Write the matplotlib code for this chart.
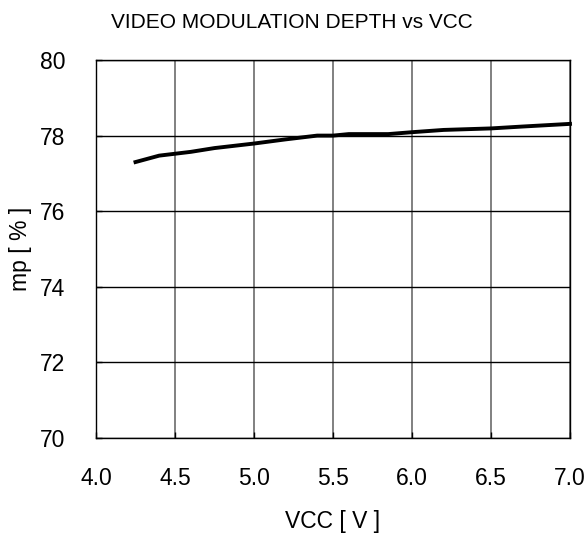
import matplotlib
matplotlib.use("Agg")
import matplotlib.pyplot as plt

vcc = [4.25, 4.4, 4.6, 4.75, 5.0, 5.2, 5.4, 5.5, 5.6, 5.85, 6.0, 6.2, 6.5, 6.7, 7.0]
mp = [77.3, 77.47, 77.57, 77.67, 77.79, 77.9, 78.0, 78.0, 78.04, 78.04, 78.09, 78.15, 78.19, 78.24, 78.31]
xticks = [4.0, 4.5, 5.0, 5.5, 6.0, 6.5, 7.0]
yticks = [70, 72, 74, 76, 78, 80]

plt.rcParams['font.family'] = ['Liberation Sans', 'DejaVu Sans']

fig = plt.figure(figsize=(5.87, 5.33), dpi=100)
ax = fig.add_axes([96/587, 1-438/533, (570-96)/587, (438-60)/533])

ax.set_xlim(4.0, 7.0)
ax.set_ylim(70, 80)
ax.set_xticks(xticks)
ax.set_xticklabels([f"{t:.1f}" for t in xticks])
ax.set_yticks(yticks)
ax.set_yticklabels([str(t) for t in yticks])

ax.xaxis.grid(True, color='#808080', linewidth=1.4)
ax.yaxis.grid(True, color='black', linewidth=1.0)
ax.set_axisbelow(True)

ax.plot(vcc, mp, color='black', linewidth=2.8, clip_on=False, zorder=3)

for s in ax.spines.values():
    s.set_color('black')
    s.set_linewidth(1.0)

ax.tick_params(axis='both', direction='in', length=4, width=1, color='black',
               labelsize=16.5, pad=21)
ax.tick_params(axis='y', pad=22)

ax.set_xlabel("VCC [ V ]", fontsize=16.5, labelpad=14)
ax.set_ylabel("mp [ % ]", fontsize=16.5, labelpad=6)

fig.text(292/587, 1-23/533, "VIDEO MODULATION DEPTH vs VCC", fontsize=15,
         ha='center', va='center')

fig.savefig("out.png", dpi=100)
